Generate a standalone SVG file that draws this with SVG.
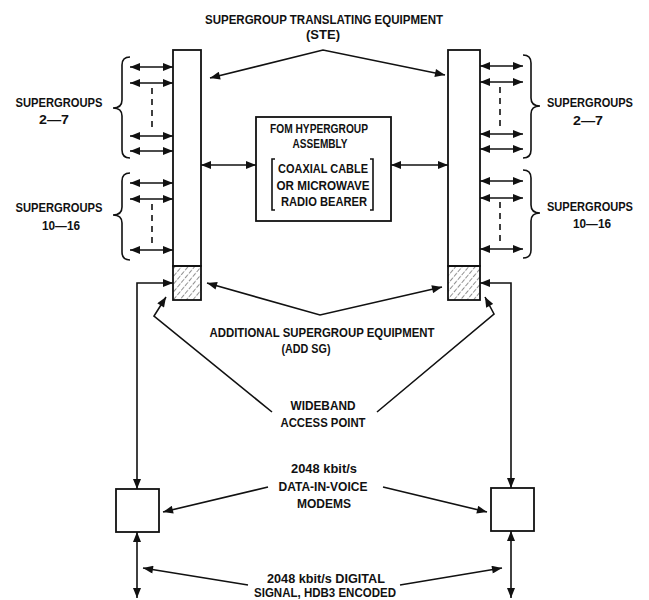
<svg xmlns="http://www.w3.org/2000/svg" width="649" height="600" viewBox="0 0 649 600">
<style>
text{font-family:"Liberation Sans",Arial,sans-serif;font-weight:bold;font-size:13.5px;fill:#111;text-anchor:middle;}
text.sg{font-size:12.5px;}
.ln{stroke:#111;stroke-width:1.6;fill:none;}
.dbl{stroke:#111;stroke-width:1.6;fill:none;marker-start:url(#ah);marker-end:url(#ah);}
.box{stroke:#111;stroke-width:1.8;fill:#fff;}
.dash{stroke:#111;stroke-width:1.6;stroke-dasharray:6,5;fill:none;}
</style>
<defs>
<marker id="ah" viewBox="0 0 10 8" refX="10" refY="4" markerWidth="12" markerHeight="8" markerUnits="userSpaceOnUse" orient="auto-start-reverse">
<path d="M0,0 L10,4 L0,8 Z" fill="#111"/>
</marker>
<pattern id="hatch" patternUnits="userSpaceOnUse" width="5" height="6" patternTransform="rotate(40)">
<line x1="0" y1="0" x2="0" y2="6" stroke="#222" stroke-width="1" stroke-dasharray="4,1.5"/>
</pattern>
</defs>

<g id="ste-left">
<rect class="box" x="173" y="50" width="28" height="216"/>
<rect x="173" y="266" width="28" height="34" fill="url(#hatch)" stroke="#111" stroke-width="1.8"/>
</g>
<g id="ste-right">
<rect class="box" x="448" y="50" width="32" height="216"/>
<rect x="448" y="266" width="32" height="34" fill="url(#hatch)" stroke="#111" stroke-width="1.8"/>
</g>

<g id="hypergroup">
<rect class="box" x="256" y="117" width="135" height="104"/>
<text x="319" y="133" textLength="98" lengthAdjust="spacingAndGlyphs">FOM HYPERGROUP</text>
<text x="320" y="148" textLength="55" lengthAdjust="spacingAndGlyphs">ASSEMBLY</text>
<text x="323" y="173" textLength="90" lengthAdjust="spacingAndGlyphs">COAXIAL CABLE</text>
<text x="323" y="190" textLength="93" lengthAdjust="spacingAndGlyphs">OR MICROWAVE</text>
<text x="324" y="206" textLength="86" lengthAdjust="spacingAndGlyphs">RADIO BEARER</text>
<path class="ln" d="M275,159 L272,159 L272,210 L275,210"/>
<path class="ln" d="M370,159 L373,159 L373,210 L370,210"/>
</g>

<g id="modem-left"><rect class="box" x="116" y="489" width="43" height="43"/></g>
<g id="modem-right"><rect class="box" x="491" y="488" width="43" height="43"/></g>

<g id="labels">
<text x="324" y="24" textLength="238" lengthAdjust="spacingAndGlyphs">SUPERGROUP TRANSLATING EQUIPMENT</text>
<text x="323" y="39" textLength="34" lengthAdjust="spacingAndGlyphs">(STE)</text>
<text class="sg" x="59" y="107" textLength="87" lengthAdjust="spacingAndGlyphs">SUPERGROUPS</text>
<text x="54" y="124" textLength="30" lengthAdjust="spacingAndGlyphs">2—7</text>
<text class="sg" x="59" y="212" textLength="87" lengthAdjust="spacingAndGlyphs">SUPERGROUPS</text>
<text x="61" y="230" textLength="38" lengthAdjust="spacingAndGlyphs">10—16</text>
<text class="sg" x="590" y="107" textLength="86" lengthAdjust="spacingAndGlyphs">SUPERGROUPS</text>
<text x="588" y="125" textLength="30" lengthAdjust="spacingAndGlyphs">2—7</text>
<text class="sg" x="590" y="211" textLength="86" lengthAdjust="spacingAndGlyphs">SUPERGROUPS</text>
<text x="592" y="228" textLength="38" lengthAdjust="spacingAndGlyphs">10—16</text>
<text x="322" y="337" textLength="225" lengthAdjust="spacingAndGlyphs">ADDITIONAL SUPERGROUP EQUIPMENT</text>
<text x="306" y="353" textLength="49" lengthAdjust="spacingAndGlyphs">(ADD SG)</text>
<text x="323" y="410" textLength="65" lengthAdjust="spacingAndGlyphs">WIDEBAND</text>
<text x="323" y="427" textLength="85" lengthAdjust="spacingAndGlyphs">ACCESS POINT</text>
<text x="324" y="473" textLength="66" lengthAdjust="spacingAndGlyphs">2048 kbit/s</text>
<text x="323" y="491" textLength="89" lengthAdjust="spacingAndGlyphs">DATA-IN-VOICE</text>
<text x="324" y="508" textLength="54" lengthAdjust="spacingAndGlyphs">MODEMS</text>
<text x="326" y="583" textLength="118" lengthAdjust="spacingAndGlyphs">2048 kbit/s DIGITAL</text>
<text x="325" y="597" textLength="142" lengthAdjust="spacingAndGlyphs">SIGNAL, HDB3 ENCODED</text>
</g>

<g id="connectors">
<line class="dbl" x1="130" y1="67" x2="173" y2="67"/>
<line class="dbl" x1="130" y1="83" x2="173" y2="83"/>
<line class="dbl" x1="130" y1="136" x2="173" y2="136"/>
<line class="dbl" x1="130" y1="151" x2="173" y2="151"/>
<line class="dbl" x1="130" y1="183" x2="173" y2="183"/>
<line class="dbl" x1="130" y1="199" x2="173" y2="199"/>
<line class="dbl" x1="130" y1="250" x2="173" y2="250"/>
<path class="dash" d="M152,88 V130 M152,204 V246"/>
<line class="dbl" x1="480" y1="66" x2="523" y2="66"/>
<line class="dbl" x1="480" y1="82" x2="523" y2="82"/>
<line class="dbl" x1="480" y1="134" x2="523" y2="134"/>
<line class="dbl" x1="480" y1="149" x2="523" y2="149"/>
<line class="dbl" x1="480" y1="181" x2="523" y2="181"/>
<line class="dbl" x1="480" y1="198" x2="523" y2="198"/>
<line class="dbl" x1="480" y1="249" x2="523" y2="249"/>
<path class="dash" d="M500,87 V130 M500,202 V242"/>
<path class="ln" d="M130,57 Q122,57 122,65 V100 Q122,108 113,108 Q122,108 122,116 V150 Q122,158 130,158"/>
<path class="ln" d="M130,173 Q122,173 122,181 V207 Q122,215 113,215 Q122,215 122,223 V252 Q122,260 130,260"/>
<path class="ln" d="M523,55 Q531,55 531,63 V98 Q531,106 540,106 Q531,106 531,114 V150 Q531,158 523,158"/>
<path class="ln" d="M523,170 Q531,170 531,178 V205 Q531,213 540,213 Q531,213 531,221 V250 Q531,258 523,258"/>
<path class="dbl" d="M210,78 L323,50 L445,75"/>
<line class="dbl" x1="201" y1="165" x2="256" y2="165"/>
<line class="dbl" x1="391" y1="165" x2="448" y2="165"/>
<path class="dbl" d="M207,283 L320,315 L442,287"/>
<path class="ln" marker-end="url(#ah)" d="M272,412 L154,316 L166,297"/>
<path class="ln" marker-end="url(#ah)" d="M377,412 L494,314 L485,297"/>
<path class="dbl" d="M173,283 H137 V489"/>
<path class="dbl" d="M480,283 H511 V488"/>
<path class="ln" marker-end="url(#ah)" d="M268,487 L163,512"/>
<path class="ln" marker-end="url(#ah)" d="M383,487 L487,512"/>
<line class="dbl" x1="137" y1="532" x2="137" y2="598"/>
<line class="dbl" x1="511" y1="531" x2="511" y2="598"/>
<path class="ln" marker-end="url(#ah)" d="M248,585 L143,568"/>
<path class="ln" marker-end="url(#ah)" d="M400,585 L502,568"/>
</g>
</svg>
